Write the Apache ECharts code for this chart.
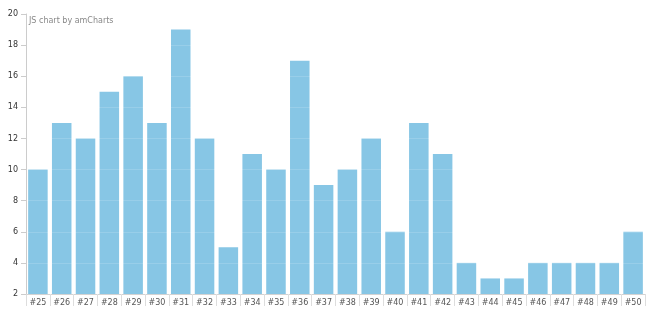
<!DOCTYPE html>
<html><head><meta charset="utf-8">
<script src="https://cdn.jsdelivr.net/npm/echarts@6/dist/echarts.min.js"></script>
<style>html,body{margin:0;padding:0;background:#fff}#c{width:658px;height:313px}</style>
</head><body><div id="c"></div>
<script>
const categories = ['#25','#26','#27','#28','#29','#30','#31','#32','#33','#34','#35','#36','#37','#38','#39','#40','#41','#42','#43','#44','#45','#46','#47','#48','#49','#50'];
const values = [10,13,12,15,16,13,19,12,5,11,10,17,9,10,12,6,13,11,4,3,3,4,4,4,4,6];
const yTicks = {min: 2, max: 20, interval: 2};
const chart = echarts.init(document.getElementById('c'));
chart.setOption({
  animation: false,
  grid: {left: 26, right: 13, top: 14, bottom: 19},
  title: {text: 'JS chart by amCharts', left: 24, top: 12,
    textStyle: {fontSize: 8, fontWeight: 'normal', color: '#888', fontFamily: 'Verdana, DejaVu Sans, sans-serif'}},
  xAxis: {
    type: 'category', data: categories,
    axisLine: {lineStyle: {color: '#ccc'}},
    axisTick: {show: true, length: 12, lineStyle: {color: '#ddd'}},
    axisLabel: {fontSize: 8, color: '#555', margin: 5, fontFamily: 'DejaVu Sans, sans-serif', interval: 0}
  },
  yAxis: {
    type: 'value', min: yTicks.min, max: yTicks.max, interval: yTicks.interval, z: 5,
    axisLine: {show: true, lineStyle: {color: '#ccc'}},
    axisTick: {show: true, length: 5, lineStyle: {color: '#ccc'}},
    axisLabel: {fontSize: 8, color: '#333', margin: 8, fontFamily: 'DejaVu Sans, sans-serif'},
    splitLine: {show: true, lineStyle: {color: 'rgba(255,255,255,0.15)'}}
  },
  series: [{
    type: 'bar', data: values, barCategoryGap: '18%',
    itemStyle: {color: '#87c6e5'}
  }]
});
</script></body></html>
